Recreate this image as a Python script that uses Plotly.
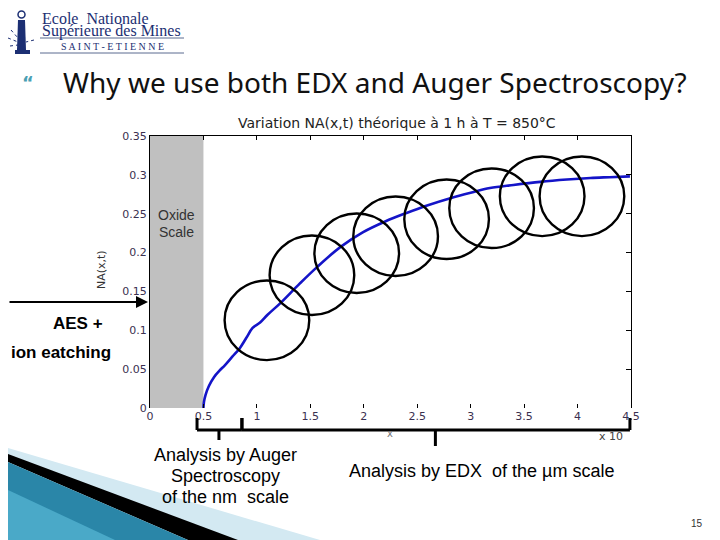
import plotly.graph_objects as go

# ---------------- data ----------------
x_pos = [0.50, 0.505, 0.52, 0.55, 0.60, 0.65, 0.70, 0.77, 0.84, 0.90, 0.96, 1.03, 1.10, 1.22, 1.40, 1.56,
         1.78, 1.99, 2.20, 2.40, 2.60, 2.81, 3.00, 3.18, 3.40, 3.65, 3.90, 4.12, 4.30, 4.49]
na_vals = [0.000, 0.008, 0.017, 0.028, 0.040, 0.048, 0.055, 0.066, 0.077, 0.090, 0.103, 0.110, 0.120,
           0.135, 0.160, 0.181, 0.207, 0.226, 0.240, 0.251, 0.261, 0.270, 0.277, 0.283, 0.287, 0.291,
           0.294, 0.296, 0.297, 0.298]
oxide_range = [0.0, 0.5]
circle_x = [1.094, 1.515, 1.934, 2.298, 2.775, 3.196, 3.669, 4.041]
circle_y = [0.1128, 0.1708, 0.1991, 0.2210, 0.2429, 0.2570, 0.2724, 0.2724]
circle_rx = 0.396
circle_ry = 0.0512
x_range = [0, 4.5]
y_range = [0, 0.35]
auger_bracket = [0.44, 0.645, 0.86]
edx_bracket = [0.86, 2.67, 4.49]

# ------------- geometry helpers (reference-pixel coordinates) -------------
OFF = 8  # page body margin
L, R, T, B = 150, 631, 136, 408
W, H = 720 - OFF, 540 - OFF


def px(xp):
    return (xp - L) / (R - L)


def py(yp):
    return (B - yp) / (B - T)


def dx(xv):
    return (xv - x_range[0]) / (x_range[1] - x_range[0])


def poly(points):
    return "M " + " L ".join(f"{px(a):.5f},{py(b):.5f}" for a, b in points) + " Z"


fig = go.Figure()
fig.add_trace(go.Scatter(x=x_pos, y=na_vals, mode="lines", line_shape="spline",
                         line=dict(color="#1414c8", width=2.6), showlegend=False,
                         hoverinfo="skip"))
fig.add_trace(go.Scatter(x=[None], y=[None], xaxis="x2", yaxis="y2", showlegend=False))

shapes = []
shapes.append(dict(type="rect", xref="x", yref="paper", x0=oxide_range[0], x1=oxide_range[1],
                   y0=0, y1=1, fillcolor="#c0c0c0", line=dict(width=0), layer="below"))
for cx, cy in zip(circle_x, circle_y):
    shapes.append(dict(type="circle", xref="x", yref="y",
                       x0=cx - circle_rx, x1=cx + circle_rx, y0=cy - circle_ry, y1=cy + circle_ry,
                       line=dict(color="black", width=2.4)))

yb = py(430)
ytop = py(418)
blk = dict(color="black", width=3)
for a, m, b, ybot in [(auger_bracket[0], auger_bracket[1], auger_bracket[2], py(440)),
                      (edx_bracket[0], edx_bracket[1], edx_bracket[2], py(446))]:
    shapes.append(dict(type="line", xref="paper", yref="paper", x0=dx(a), x1=dx(b), y0=yb, y1=yb, line=blk))
    shapes.append(dict(type="line", xref="paper", yref="paper", x0=dx(a), x1=dx(a), y0=yb, y1=ytop, line=blk))
    shapes.append(dict(type="line", xref="paper", yref="paper", x0=dx(b), x1=dx(b), y0=yb, y1=ytop, line=blk))
    shapes.append(dict(type="line", xref="paper", yref="paper", x0=dx(m), x1=dx(m), y0=yb, y1=ybot, line=blk))

navy = "#1c2f73"
shapes.append(dict(type="line", xref="paper", yref="paper", x0=px(40), x1=px(184), y0=py(38), y1=py(38),
                   line=dict(color="#5a6a90", width=1)))
shapes.append(dict(type="line", xref="paper", yref="paper", x0=px(40), x1=px(184), y0=py(53), y1=py(53),
                   line=dict(color="#5a6a90", width=1)))
shapes.append(dict(type="path", xref="paper", yref="paper",
                   path=poly([(18, 20), (25, 20), (26, 50), (17, 50)]), fillcolor=navy, line=dict(width=0)))
shapes.append(dict(type="path", xref="paper", yref="paper",
                   path=poly([(15, 50), (30, 50), (30, 54), (15, 54)]), fillcolor=navy, line=dict(width=0)))
shapes.append(dict(type="circle", xref="paper", yref="paper", x0=px(18), x1=px(25), y0=py(11), y1=py(18),
                   line=dict(color=navy, width=1.5)))
for (a, b) in [((8, 38), (18, 42)), ((10, 46), (18, 45)), ((11, 30), (18, 38)), ((34, 40), (26, 42))]:
    shapes.append(dict(type="line", xref="paper", yref="paper", x0=px(a[0]), y0=py(a[1]), x1=px(b[0]), y1=py(b[1]),
                       line=dict(color=navy, width=1, dash="dot")))

# bottom-left swoosh
shapes.append(dict(type="path", xref="paper", yref="paper",
                   path=poly([(8, 448), (320, 540), (235, 540), (8, 457)]), fillcolor="#d3e9f2",
                   line=dict(width=0)))
shapes.append(dict(type="path", xref="paper", yref="paper",
                   path=poly([(8, 454), (238, 540), (188, 540), (8, 462)]), fillcolor="#000000",
                   line=dict(width=0)))
shapes.append(dict(type="path", xref="paper", yref="paper",
                   path=poly([(8, 462), (188, 540), (8, 540)]), fillcolor="#2a86a8",
                   line=dict(width=0)))
shapes.append(dict(type="path", xref="paper", yref="paper",
                   path=poly([(8, 490), (115, 540), (8, 540)]), fillcolor="#4aa9c8",
                   line=dict(width=0)))

ann = []
arial = "Liberation Sans, Arial, sans-serif"
dv = "DejaVu Sans"


def text(x, y, s, size, color="black", family=arial, xanchor="center", **kw):
    ann.append(dict(xref="paper", yref="paper", x=px(x), y=py(y), text=s, showarrow=False,
                    xanchor=xanchor, yanchor="middle", font=dict(family=family, size=size, color=color), **kw))


text(20, 82, "<b>“</b>", 18, "#4aa0b4", family=dv, xanchor="left")
text(61, 82, "Why we use both EDX and Auger Spectroscopy?", 28, "#111111", family="Noto Sans", xanchor="left")
text(40, 18, "Ecole  Nationale", 16, navy, family="Liberation Serif", xanchor="left")
text(40, 31, "Supérieure des Mines", 16, navy, family="Liberation Serif", xanchor="left")
text(112, 46, "S A I N T - E T I E N N E", 10, navy, family="Liberation Serif")
text(397, 123, "Variation NA(x,t) théorique à 1 h à T = 850°C", 14, "#222222", family=dv)
text(101, 270, "NA(x,t)", 11, "#333", family=dv, textangle=-90)
text(390, 433, "x", 10, "#777", family=dv)
text(597, 436, "x 10", 11, "#444", family=dv, xanchor="left")
text(176, 215, "Oxide", 14, "#333333")
text(176, 232, "Scale", 14, "#333333")
ann.append(dict(xref="paper", yref="paper", x=px(148), y=py(302), ax=-146, ay=0, axref="pixel", ayref="pixel",
                text="", showarrow=True, arrowhead=2, arrowwidth=2, arrowsize=1.2, arrowcolor="black"))
text(105, 323, "<b>AES +</b>", 17, xanchor="right")
text(113, 352, "<b>ion eatching</b>", 17, xanchor="right")
text(225, 455, "Analysis by Auger", 18)
text(225, 476, "Spectroscopy", 18)
text(225, 497, "of the nm  scale", 18)
text(347, 471, "Analysis by EDX  of the µm scale", 18, xanchor="left")
text(697, 523, "15", 10, "#333")

tickfont = dict(family=dv, size=11, color="#3a3050")
fig.update_layout(
    width=W, height=H,
    margin=dict(l=L - OFF, r=W - (R - OFF), t=T - OFF, b=H - (B - OFF), pad=0),
    paper_bgcolor="white", plot_bgcolor="white",
    showlegend=False,
    shapes=shapes, annotations=ann,
    xaxis=dict(range=x_range, dtick=0.5, tick0=0, ticks="inside", ticklen=4, tickcolor="black",
               showline=False, showgrid=False, zeroline=False, tickfont=tickfont),
    yaxis=dict(range=y_range, dtick=0.05, tick0=0, ticks="", showline=True, linecolor="black",
               linewidth=1, showgrid=False, zeroline=False, tickfont=tickfont),
    xaxis2=dict(range=x_range, overlaying="x", side="top", dtick=0.5, tick0=0, ticks="inside",
                ticklen=4, tickcolor="black", showline=True, linecolor="black", linewidth=1,
                showticklabels=False, showgrid=False, zeroline=False),
    yaxis2=dict(range=y_range, overlaying="y", side="right", dtick=0.05, tick0=0, ticks="inside",
                ticklen=5, tickcolor="black", showline=True, linecolor="black", linewidth=1,
                showticklabels=False, showgrid=False, zeroline=False),
)

fig.write_html("out.html")
